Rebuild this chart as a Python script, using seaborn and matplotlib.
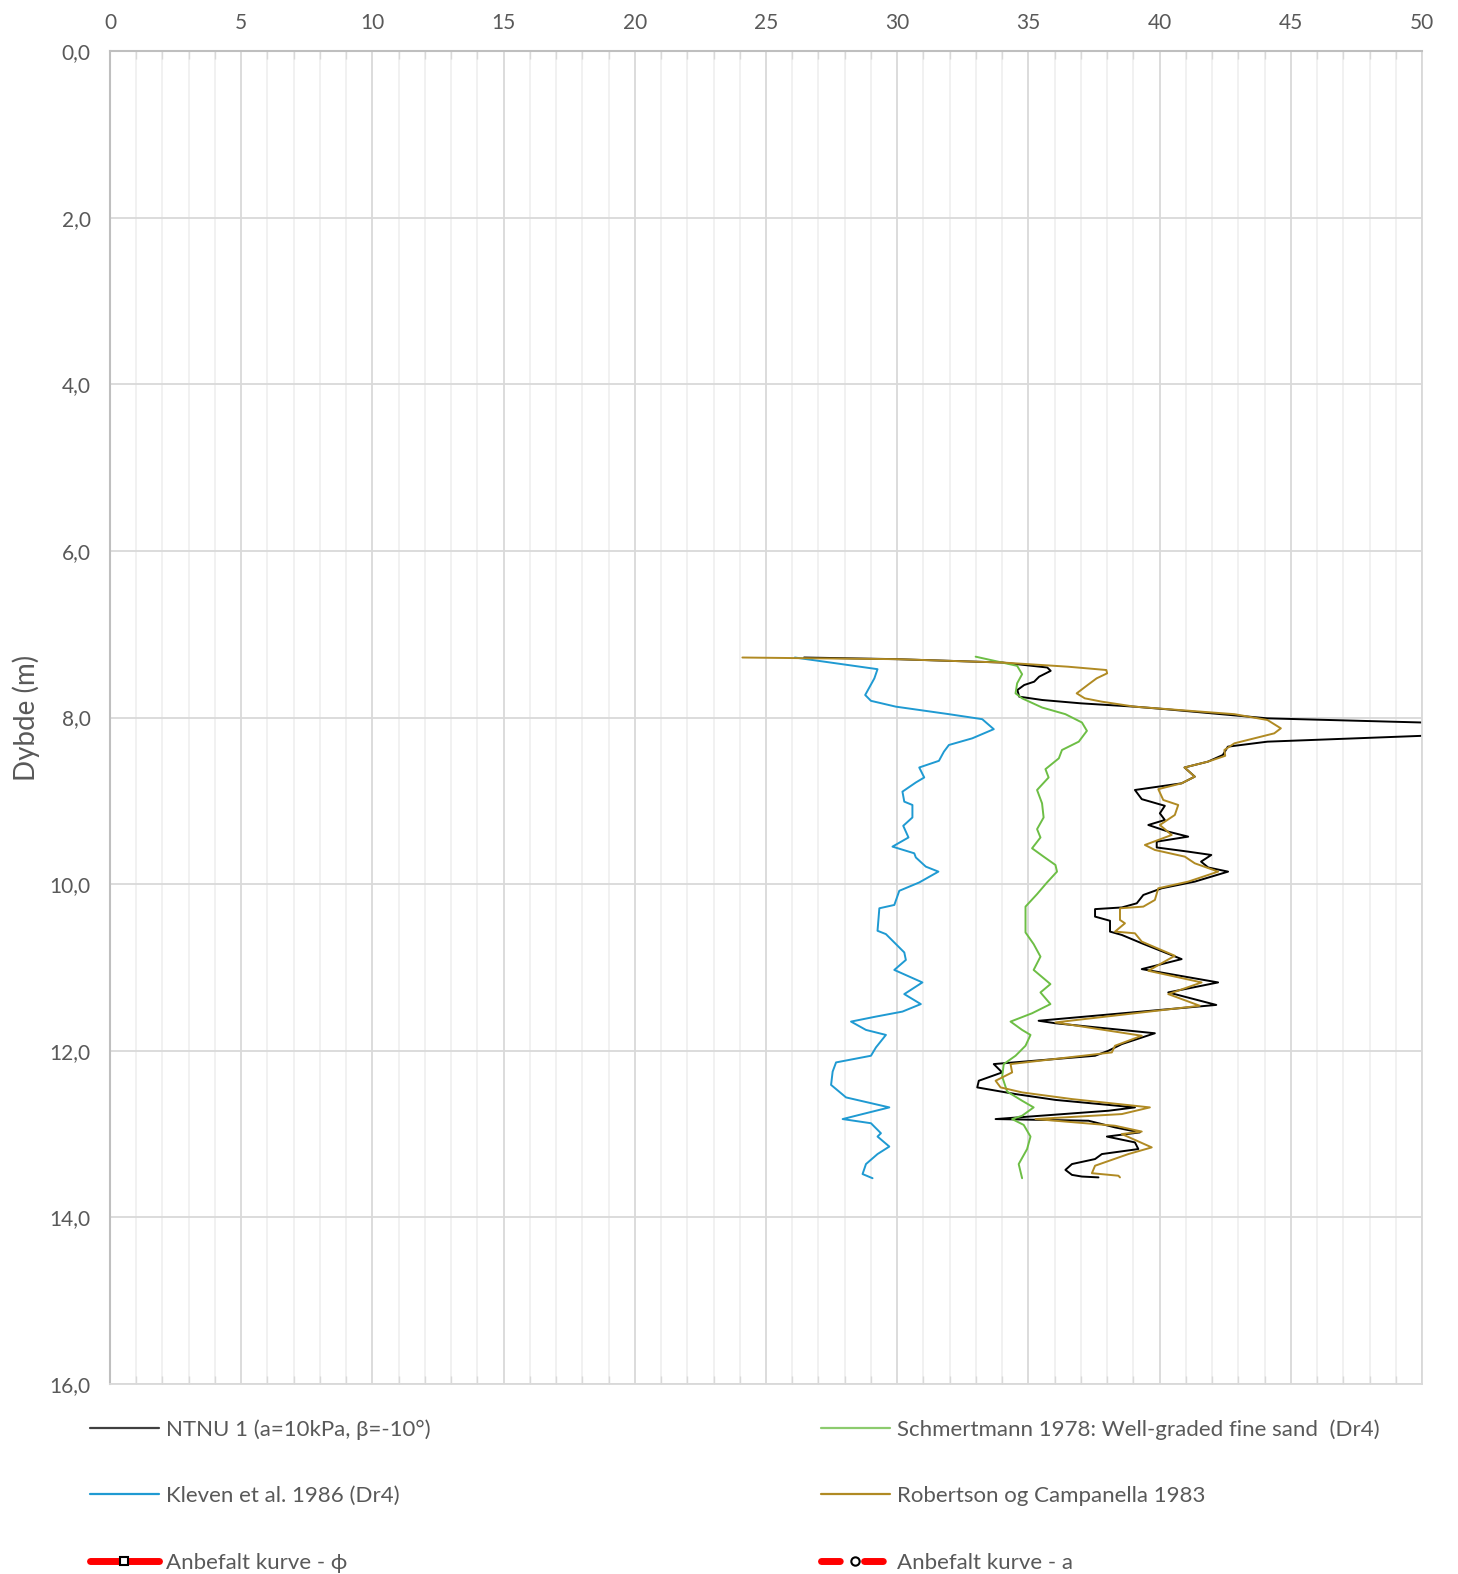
import numpy as np
import pandas as pd
import matplotlib
matplotlib.use("Agg")
import matplotlib.pyplot as plt
from matplotlib.lines import Line2D
from matplotlib.ticker import MultipleLocator, FuncFormatter
import seaborn as sns

# ---------------- data (friction angle vs depth) ----------------
ntnu_phi = [26.45, 30.0, 34.0, 35.72, 35.85, 35.41, 35.22, 34.84, 34.58, 34.65, 35.53, 37.0, 39.05, 40.22,
            44.11, 50.0, 57.0, 50.0, 44.11, 42.6, 42.41, 41.84, 40.95, 41.34, 40.84,
            39.06, 39.32, 40.2, 40.01, 40.2, 39.57, 40.33, 41.09, 39.89, 39.89, 41.09, 41.97, 41.58, 41.85,
            42.61, 41.34, 40.08, 39.38, 39.13, 38.56, 37.54, 37.54, 38.11, 38.11, 38.56, 39.32, 40.84, 39.32,
            42.23, 40.33, 42.16, 35.39, 36.03, 39.82, 38.56, 38.05, 37.54, 33.68, 34.0, 33.11, 33.05, 34.51,
            36.03, 39.06, 38.05, 33.75, 37.29, 38.3, 39.25, 37.99, 39.06, 39.19, 37.8, 37.54, 36.66, 36.41,
            36.66, 37.04, 37.67]
ntnu_z = [7.28, 7.30, 7.34, 7.40, 7.44, 7.51, 7.57, 7.61, 7.67, 7.75, 7.79, 7.83, 7.87, 7.90,
          8.01, 8.06, 8.13, 8.22, 8.29, 8.35, 8.45, 8.53, 8.60, 8.71, 8.79,
          8.87, 8.98, 9.06, 9.15, 9.23, 9.29, 9.37, 9.43, 9.49, 9.56, 9.61, 9.65, 9.73, 9.80,
          9.85, 9.97, 10.05, 10.13, 10.23, 10.28, 10.30, 10.39, 10.44, 10.57, 10.61, 10.71, 10.90, 11.02,
          11.18, 11.30, 11.45, 11.64, 11.67, 11.79, 11.92, 12.00, 12.06, 12.16, 12.26, 12.36, 12.44, 12.52,
          12.59, 12.68, 12.72, 12.82, 12.84, 12.92, 12.98, 13.03, 13.10, 13.18, 13.24, 13.30, 13.36, 13.43,
          13.49, 13.51, 13.52]

kleven_phi = [26.1, 29.25, 29.13, 28.78, 29.0, 29.95, 31.97, 33.24, 33.68, 32.86, 31.97, 31.78, 31.59,
              30.84, 31.03, 30.71, 30.2, 30.27, 30.58, 30.58, 30.23, 30.43, 29.82, 30.65, 30.71, 31.09,
              31.57, 30.84, 30.08, 29.89, 29.32, 29.25, 29.57, 30.27, 30.33, 29.89, 30.96, 30.27, 30.9,
              30.2, 29.19, 28.24, 28.81, 29.57, 29.19, 29.0, 27.67, 27.54, 27.48, 28.05, 29.7, 28.68,
              27.92, 29.0, 29.38, 29.25, 29.7, 29.25, 28.81, 28.68, 29.06]
kleven_z = [7.28, 7.42, 7.53, 7.73, 7.80, 7.87, 7.96, 8.02, 8.14, 8.25, 8.33, 8.41, 8.52,
            8.60, 8.72, 8.78, 8.89, 9.01, 9.05, 9.20, 9.30, 9.44, 9.55, 9.63, 9.68, 9.79,
            9.85, 9.98, 10.08, 10.25, 10.29, 10.56, 10.60, 10.82, 10.91, 11.03, 11.18, 11.32, 11.44,
            11.53, 11.59, 11.65, 11.75, 11.81, 11.96, 12.06, 12.14, 12.25, 12.41, 12.56, 12.68, 12.76,
            12.82, 12.87, 12.99, 13.03, 13.15, 13.24, 13.36, 13.48, 13.53]

schm_phi = [32.99, 34.57, 34.76, 34.57, 34.51, 34.76, 35.52, 36.41, 37.04, 37.23, 36.92, 36.28, 36.16,
            35.65, 35.77, 35.33, 35.52, 35.58, 35.33, 35.46, 35.14, 35.58, 36.03, 36.09, 35.71, 35.33,
            34.89, 34.89, 35.2, 35.46, 35.2, 35.84, 35.46, 35.84, 35.14, 34.32, 34.76, 35.08, 34.89,
            34.51, 34.06, 34.0, 34.19, 34.76, 35.2, 34.76, 34.38, 34.82, 35.08, 34.95, 34.63, 34.76]
schm_z = [7.27, 7.38, 7.48, 7.59, 7.71, 7.77, 7.88, 7.96, 8.06, 8.16, 8.29, 8.39, 8.49,
          8.62, 8.72, 8.87, 9.03, 9.20, 9.34, 9.44, 9.57, 9.67, 9.77, 9.85, 9.98, 10.12,
          10.27, 10.58, 10.72, 10.87, 11.03, 11.20, 11.30, 11.44, 11.55, 11.65, 11.75, 11.81, 11.94,
          12.06, 12.16, 12.31, 12.49, 12.60, 12.68, 12.78, 12.82, 12.89, 13.03, 13.18, 13.36, 13.53]

rob_phi = [24.1, 30.0, 34.0, 36.5, 37.97, 38.0, 37.6, 37.3, 36.84, 37.15, 37.8, 39.05, 42.85, 44.11,
           44.62, 44.37, 42.85, 42.47, 42.5, 41.84, 40.95, 41.34, 40.84, 39.95, 40.14, 40.71, 40.58,
           40.01, 40.46, 39.44, 39.82, 40.96, 41.34, 42.23, 41.09, 39.95, 39.82, 39.38, 38.49, 38.49,
           38.68, 38.3, 39.06, 39.32, 40.58, 39.57, 41.6, 40.33, 41.53, 36.03, 39.32, 38.3, 38.18,
           34.32, 34.38, 33.75, 33.94, 34.76, 36.66, 39.63, 38.56, 35.27, 38.3, 39.32, 38.56, 39.7,
           38.81, 37.54, 37.42, 38.43, 38.49]
rob_z = [7.28, 7.30, 7.34, 7.39, 7.43, 7.47, 7.53, 7.60, 7.71, 7.77, 7.81, 7.87, 7.96, 8.03,
         8.13, 8.19, 8.31, 8.39, 8.46, 8.53, 8.60, 8.71, 8.79, 8.86, 8.99, 9.05, 9.17,
         9.29, 9.41, 9.53, 9.59, 9.67, 9.75, 9.85, 9.97, 10.05, 10.19, 10.27, 10.29, 10.43,
         10.47, 10.57, 10.59, 10.69, 10.86, 11.04, 11.18, 11.32, 11.46, 11.66, 11.82, 11.94, 12.02,
         12.16, 12.26, 12.36, 12.44, 12.50, 12.58, 12.68, 12.76, 12.82, 12.90, 12.97, 13.00, 13.16,
         13.24, 13.38, 13.47, 13.50, 13.52]

labels = ["NTNU 1 (a=10kPa, β=-10°)",
          "Kleven et al. 1986 (Dr4)",
          "Anbefalt kurve - ϕ",
          "Schmertmann 1978: Well-graded fine sand  (Dr4)",
          "Robertson og Campanella 1983",
          "Anbefalt kurve - a"]

x_ticks = [0, 5, 10, 15, 20, 25, 30, 35, 40, 45, 50]
y_ticks = [0, 2, 4, 6, 8, 10, 12, 14, 16]

# ---------------- styling ----------------
sns.set_theme(style="white")
plt.rcParams['font.family'] = ['Lato', 'DejaVu Sans']

TXT = "#595959"
colors = {"ntnu": "#000000", "kleven": "#1F9AD2", "schm": "#6DBE45", "rob": "#B08A23"}

fig = plt.figure(figsize=(14.58, 15.74), dpi=100)
ax = fig.add_axes([110/1458, 1 - 1384/1574, (1422-110)/1458, (1384-51)/1574])

series = [("ntnu", ntnu_phi, ntnu_z), ("kleven", kleven_phi, kleven_z),
          ("schm", schm_phi, schm_z), ("rob", rob_phi, rob_z)]
for key, xs, zs in series:
    df = pd.DataFrame({"phi": xs, "z": zs})
    sns.lineplot(data=df, x="phi", y="z", sort=False, estimator=None, ax=ax,
                 color=colors[key], lw=1.4, legend=False)

ax.set_xlim(0, 50)
ax.set_ylim(16, 0)
ax.xaxis.tick_top()
ax.xaxis.set_label_position("top")
ax.set_xticks(x_ticks)
ax.set_yticks(y_ticks)
ax.xaxis.set_minor_locator(MultipleLocator(1))
ax.yaxis.set_major_formatter(FuncFormatter(lambda v, p: f"{v:.1f}".replace(".", ",")))
ax.grid(which="major", axis="both", color="#D9D9D9", lw=1.3)
ax.grid(which="minor", axis="x", color="#F0F0F0", lw=1.3)
ax.set_axisbelow(True)
ax.tick_params(axis="x", which="major", length=0, pad=13, labelsize=15, labelcolor=TXT)
ax.tick_params(axis="x", which="minor", direction="in", length=6, color="#D9D9D9", top=True, bottom=True)
ax.tick_params(axis="y", which="major", length=0, pad=14, labelsize=15, labelcolor=TXT)
for s in ["left", "top"]:
    ax.spines[s].set_color("#BFBFBF")
    ax.spines[s].set_linewidth(1.5)
for s in ["right", "bottom"]:
    ax.spines[s].set_color("#D9D9D9")
    ax.spines[s].set_linewidth(1.3)
ax.set_xlabel("")
ax.set_ylabel("Dybde (m)", fontsize=20, color=TXT, labelpad=7)

# ---------------- legend ----------------
h_ntnu = Line2D([], [], color="#404040", lw=1.6)
h_kle = Line2D([], [], color=colors["kleven"], lw=1.6)
h_phi = Line2D([], [], color="red", lw=5, solid_capstyle="round", marker="s", markersize=6,
               markerfacecolor="white", markeredgecolor="black", markeredgewidth=1.5)
h_sch = Line2D([], [], color="#8CCB6E", lw=1.6)
h_rob = Line2D([], [], color=colors["rob"], lw=1.6)
h_a = Line2D([], [], color="red", lw=5, ls=(0, (2.7, 3.5)), dash_capstyle="round", marker="o", markersize=6,
             markerfacecolor="white", markeredgecolor="black", markeredgewidth=1.5)

common = dict(frameon=False, fontsize=16, labelcolor=TXT, handlelength=3.1, handletextpad=0.3,
              labelspacing=2.1, loc="upper left", borderaxespad=0, borderpad=0)
leg1 = fig.legend([h_ntnu, h_kle, h_phi], labels[0:3], bbox_to_anchor=(90/1458, 1 - 1419/1574), **common)
leg2 = fig.legend([h_sch, h_rob, h_a], labels[3:6], bbox_to_anchor=(821/1458, 1 - 1419/1574), **common)

fig.savefig("out.png", dpi=100)
